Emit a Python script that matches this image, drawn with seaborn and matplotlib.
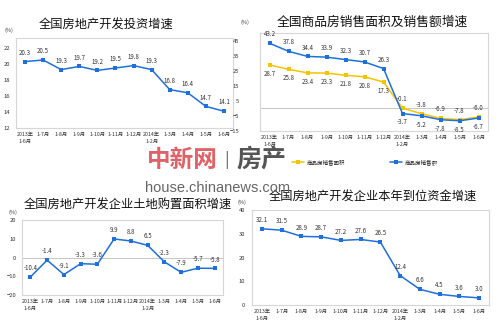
import matplotlib
matplotlib.use("Agg")
import matplotlib.pyplot as plt
import numpy as np
import pandas as pd
import seaborn as sns

# ---------------- data ----------------
months = ["2013年\n1-6月", "1-7月", "1-8月", "1-9月", "1-10月", "1-11月", "1-12月",
          "2014年\n1-2月", "1-3月", "1-4月", "1-5月", "1-6月"]
invest = [20.3, 20.5, 19.3, 19.7, 19.2, 19.5, 19.8, 19.3, 16.8, 16.4, 14.7, 14.1]
sales_area = [28.7, 25.8, 23.4, 23.3, 21.8, 20.8, 17.3, -0.1, -3.8, -6.9, -7.8, -6.0]
sales_value = [43.2, 37.8, 34.4, 33.9, 32.3, 30.7, 26.3, -3.7, -5.2, -7.8, -8.5, -6.7]
land = [-10.4, -1.4, -9.1, -3.3, -3.6, 9.9, 8.8, 6.5, -2.3, -7.9, -5.7, -5.8]
funds = [32.1, 31.5, 28.9, 28.7, 27.2, 27.6, 26.5, 12.4, 6.6, 4.5, 3.6, 3.0]

titles = ["全国房地产开发投资增速", "全国商品房销售面积及销售额增速",
          "全国房地产开发企业土地购置面积增速", "全国房地产开发企业本年到位资金增速"]
legend_labels = ["商品房销售面积", "商品房销售额"]

BLUE = "#1f6fdc"
YELLOW = "#f5c400"
SPINE = "#d6d6d6"
TXT = "#333333"

sns.set_style("white")
plt.rcParams["font.family"] = ["Noto Sans CJK SC", "DejaVu Sans"]

W, H = 500, 330
fig = plt.figure(figsize=(W / 100, H / 100), dpi=100)


def add_ax(l, t, r, b):
    return fig.add_axes([l / W, 1 - b / H, (r - l) / W, (b - t) / H])


def style(ax, ylim, yticks, ypad, zero=False):
    ax.set_xlim(-0.5, 11.5)
    ax.set_ylim(*ylim)
    ax.set_yticks(yticks)
    ax.set_xticks(range(len(months)))
    ax.set_xticklabels(months, fontsize=3.8, color=TXT, linespacing=1.5)
    ax.tick_params(axis="y", labelsize=4.2, labelcolor=TXT, pad=ypad, length=0)
    ax.tick_params(axis="x", pad=3, length=0)
    for s in ax.spines.values():
        s.set_color(SPINE)
        s.set_linewidth(0.8)
    ax.set_xlabel("")
    ax.set_ylabel("")
    if zero:
        ax.axhline(0, color="#bbbbbb", lw=0.6, zorder=0)
    legend = ax.get_legend()
    if legend:
        legend.remove()


def draw(ax, vals, color, above=True, below_idx=()):
    df = pd.DataFrame({"x": np.arange(len(vals)), "y": vals})
    sns.lineplot(data=df, x="x", y="y", ax=ax, color=color, marker="s",
                 markersize=2.6, markeredgewidth=0, linewidth=1.1)
    for i, v in enumerate(vals):
        up = above if i not in below_idx else not above
        ax.annotate(f"{v:.1f}", (i, v), xytext=(0, 3.5 if up else -3.5),
                    textcoords="offset points", ha="center",
                    va="bottom" if up else "top", fontsize=4.4, color=TXT)


# Panel 1
ax1 = add_ax(16, 38, 233, 128)
draw(ax1, invest, BLUE)
style(ax1, (12, 23.25), [12, 14, 16, 18, 20, 22], 4)

# Panel 2
ax2 = add_ax(260, 33, 488, 130.5)
l_area = sns.lineplot(x=np.arange(12), y=sales_area, ax=ax2, color=YELLOW, marker="s",
                      markersize=2.6, markeredgewidth=0, linewidth=1.1, label=legend_labels[0])
for i, v in enumerate(sales_area):
    up = i >= 7
    ax2.annotate(f"{v:.1f}", (i, v), xytext=(0, 3.5 if up else -3.5),
                 textcoords="offset points", ha="center",
                 va="bottom" if up else "top", fontsize=4.4, color=TXT)
sns.lineplot(x=np.arange(12), y=sales_value, ax=ax2, color=BLUE, marker="s",
             markersize=2.6, markeredgewidth=0, linewidth=1.1, label=legend_labels[1])
for i, v in enumerate(sales_value):
    up = i < 7
    ax2.annotate(f"{v:.1f}", (i, v), xytext=(0, 3.5 if up else -3.5),
                 textcoords="offset points", ha="center",
                 va="bottom" if up else "top", fontsize=4.4, color=TXT)
handles, labels = ax2.get_legend_handles_labels()
style(ax2, (-15, 50), [-15, -5, 5, 15, 25, 35, 45], 15, zero=True)
fig.legend(handles, labels, loc="center", bbox_to_anchor=(365 / W, 1 - 162 / H), ncol=2,
           frameon=False, fontsize=4, handlelength=2.2, columnspacing=8, handletextpad=0.5)

# Panel 3
ax3 = add_ax(22, 220, 223, 295)
draw(ax3, land, BLUE)
style(ax3, (-20, 20), [-20, -10, 0, 10, 20], 4, zero=True)

# Panel 4
ax4 = add_ax(252, 210, 489, 305)
draw(ax4, funds, BLUE)
style(ax4, (0, 40), [0, 10, 20, 30, 40], 5)

# Titles and unit labels
for t, (cx, cy), fs in zip(titles, [(106, 25), (372, 22), (128, 205), (373, 197)],
                           [8.8, 9.2, 8.8, 8.8]):
    fig.text(cx / W, 1 - cy / H, t, ha="center", va="center", fontsize=fs, color="#111111")
for (cx, cy) in [(9, 30), (245, 22), (13, 212), (242, 202)]:
    fig.text(cx / W, 1 - cy / H, "(%)", ha="center", va="center", fontsize=4, color=TXT)

# Watermark
fig.text(182 / W, 1 - 160 / H, "中新网", ha="center", va="center", fontsize=17,
         color="#d9464c", fontweight="bold", alpha=0.85)
fig.text(227 / W, 1 - 160 / H, "|", ha="center", va="center", fontsize=12, color="#666666")
fig.text(261 / W, 1 - 160 / H, "房产", ha="center", va="center", fontsize=18,
         color="#555555", fontweight="bold")
fig.text(218 / W, 1 - 188 / H, "house.chinanews.com", ha="center", va="center",
         fontsize=10.5, color="#666666", family=["Liberation Sans", "DejaVu Sans"])

fig.savefig("out.png", dpi=100)
